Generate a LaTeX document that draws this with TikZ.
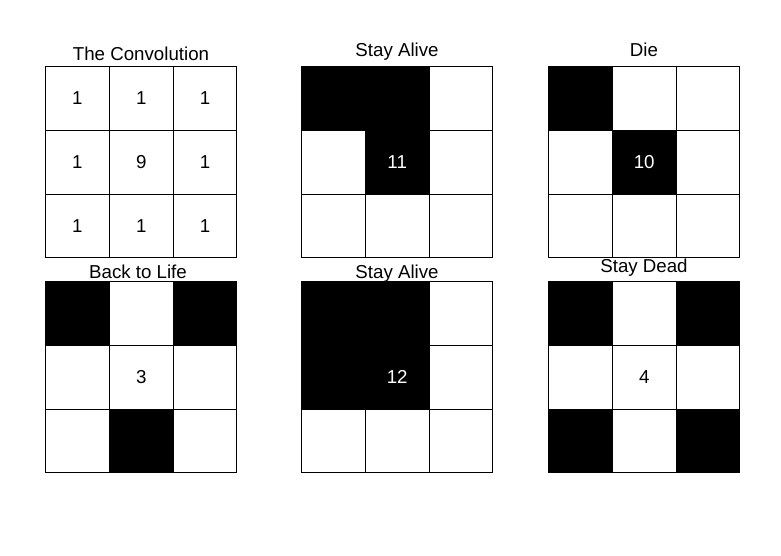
\documentclass[tikz,border=0pt]{standalone}
\usepackage{fontspec}
\setmainfont{Liberation Sans}
\begin{document}
\begin{tikzpicture}[x=1pt, y=-1pt,
      every node/.style={font=\fontsize{18.7}{21}\selectfont},
      cell/.style={draw, line width=1pt, fill=white, inner sep=0pt,
        minimum width=63.8pt, minimum height=63.8pt},
      alive/.style={cell, fill=black, text=white},
      ttl/.style={anchor=base, inner sep=0pt},
    ]
    \useasboundingbox[fill=white] (0,0) rectangle (781,555);

    % top row
    \node[ttl] (t-conv) at (141, 60) {The Convolution};
    \foreach \s/\t [count=\k from 0] in {cell/1, cell/1, cell/1, cell/1, cell/9, cell/1, cell/1, cell/1, cell/1} {
      \pgfmathtruncatemacro{\r}{int(\k/3)}
      \pgfmathtruncatemacro{\c}{mod(\k,3)}
      \node[\s] (conv-\r\c) at (45.5+31.9+63.8*\c, 66.5+31.9+63.8*\r) {\t};
    }
    \node[ttl] (t-alive) at (397, 56.7) {Stay Alive};
    \foreach \s/\t [count=\k from 0] in {alive/{}, alive/{}, cell/{}, cell/{}, alive/11, cell/{}, cell/{}, cell/{}, cell/{}} {
      \pgfmathtruncatemacro{\r}{int(\k/3)}
      \pgfmathtruncatemacro{\c}{mod(\k,3)}
      \node[\s] (alive-\r\c) at (301.5+31.9+63.8*\c, 66.5+31.9+63.8*\r) {\t};
    }
    \node[ttl] (t-die) at (644, 56.7) {Die};
    \foreach \s/\t [count=\k from 0] in {alive/{}, cell/{}, cell/{}, cell/{}, alive/10, cell/{}, cell/{}, cell/{}, cell/{}} {
      \pgfmathtruncatemacro{\r}{int(\k/3)}
      \pgfmathtruncatemacro{\c}{mod(\k,3)}
      \node[\s] (die-\r\c) at (548.5+31.9+63.8*\c, 66.5+31.9+63.8*\r) {\t};
    }

    % bottom row
    \node[ttl] (t-life) at (138, 278.3) {Back to Life};
    \foreach \s/\t [count=\k from 0] in {alive/{}, cell/{}, alive/{}, cell/{}, cell/3, cell/{}, cell/{}, alive/{}, cell/{}} {
      \pgfmathtruncatemacro{\r}{int(\k/3)}
      \pgfmathtruncatemacro{\c}{mod(\k,3)}
      \node[\s] (life-\r\c) at (45.5+31.9+63.8*\c, 281.5+31.9+63.8*\r) {\t};
    }
    \node[ttl] (t-alive2) at (397, 278.3) {Stay Alive};
    \foreach \s/\t [count=\k from 0] in {alive/{}, alive/{}, cell/{}, alive/{}, alive/12, cell/{}, cell/{}, cell/{}, cell/{}} {
      \pgfmathtruncatemacro{\r}{int(\k/3)}
      \pgfmathtruncatemacro{\c}{mod(\k,3)}
      \node[\s] (alive2-\r\c) at (301.5+31.9+63.8*\c, 281.5+31.9+63.8*\r) {\t};
    }
    \node[ttl] (t-dead) at (644, 272.3) {Stay Dead};
    \foreach \s/\t [count=\k from 0] in {alive/{}, cell/{}, alive/{}, cell/{}, cell/4, cell/{}, alive/{}, cell/{}, alive/{}} {
      \pgfmathtruncatemacro{\r}{int(\k/3)}
      \pgfmathtruncatemacro{\c}{mod(\k,3)}
      \node[\s] (dead-\r\c) at (548.5+31.9+63.8*\c, 281.5+31.9+63.8*\r) {\t};
    }
  \end{tikzpicture}
\end{document}
